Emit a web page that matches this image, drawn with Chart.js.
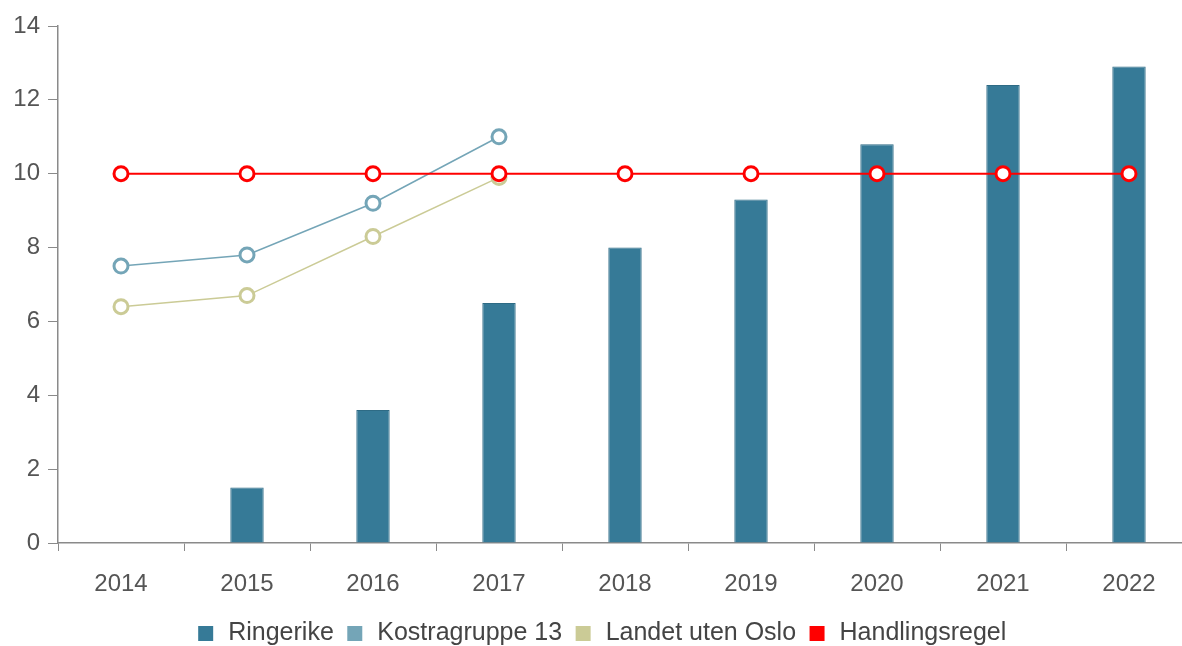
<!DOCTYPE html>
<html>
<head>
<meta charset="utf-8">
<script src="https://cdn.jsdelivr.net/npm/chart.js@4"></script>
<style>
    html, body { margin: 0; padding: 0; background: #fff; overflow: hidden; }
    #wrap { position: relative; width: 1182px; height: 646px; overflow: hidden; }
    #chart { position: absolute; left: 0; top: 0; width: 1202px; height: 646px; }
</style>
</head>
<body>
<div id="wrap"><canvas id="chart" width="1202" height="646"></canvas></div>
<script>
// Chart data
const years = ['2014', '2015', '2016', '2017', '2018', '2019', '2020', '2021', '2022'];
const ringerike = [null, 1.5, 3.6, 6.5, 8.0, 9.3, 10.8, 12.4, 12.9];
const kostragruppe13 = [7.5, 7.8, 9.2, 11.0, null, null, null, null, null];
const landetUtenOslo = [6.4, 6.7, 8.3, 9.9, null, null, null, null, null];
const handlingsregel = [10, 10, 10, 10, 10, 10, 10, 10, 10];
const yTicks = [0, 2, 4, 6, 8, 10, 12, 14];

const textColor = '#555555';
const axisColor = '#8a8a8a';
const fontFamily = '"Liberation Sans", Arial, sans-serif';

document.addEventListener('DOMContentLoaded', function() {
    initializeChart();
});

function lineDataset(label, data, color, width, order) {
    return {
        type: 'line',
        label: label,
        data: data,
        borderColor: color,
        backgroundColor: '#ffffff',
        borderWidth: width,
        pointRadius: 7,
        pointBorderWidth: 3,
        pointBackgroundColor: '#ffffff',
        pointBorderColor: color,
        legendColor: color,
        spanGaps: false,
        order: order
    };
}

function initializeChart() {
    const ctx = document.getElementById('chart');
    new Chart(ctx, {
        type: 'bar',
        data: {
            labels: years,
            datasets: [
                {
                    label: 'Ringerike',
                    data: ringerike,
                    backgroundColor: '#367a97',
                    borderColor: '#2e6b85',
                    borderWidth: 1,
                    legendColor: '#367a97',
                    categoryPercentage: 1,
                    barPercentage: 0.265,
                    order: 3
                },
                lineDataset('Kostragruppe 13', kostragruppe13, '#74a5b7', 1.5, 2),
                lineDataset('Landet uten Oslo', landetUtenOslo, '#cbcb96', 1.5, 1),
                lineDataset('Handlingsregel', handlingsregel, '#ff0000', 2, 0)
            ]
        },
        options: {
            // canvas is a bit wider than the page, the plot gets cut at the right like the source
            responsive: false,
            animation: false,
            layout: { padding: { top: 26, left: 0, right: 0, bottom: -10 } },
            plugins: {
                tooltip: { enabled: false },
                legend: {
                    position: 'bottom',
                    labels: {
                        color: '#444444',
                        font: { family: fontFamily, size: 25 },
                        usePointStyle: true,
                        pointStyle: 'rect',
                        boxWidth: 20,
                        boxHeight: 15,
                        padding: 11,
                        generateLabels: function(chart) {
                            return chart.data.datasets.map((ds, i) => ({
                                text: ds.label,
                                fillStyle: ds.legendColor,
                                strokeStyle: ds.legendColor,
                                lineWidth: 0,
                                pointStyle: 'rect',
                                fontColor: '#444444',
                                hidden: false,
                                datasetIndex: i
                            }));
                        }
                    }
                }
            },
            scales: {
                x: {
                    offset: true,
                    grid: {
                        offset: true,
                        drawOnChartArea: false,
                        drawTicks: true,
                        tickLength: 8,
                        color: axisColor
                    },
                    border: { color: axisColor, width: 1.5 },
                    ticks: {
                        color: textColor,
                        font: { family: fontFamily, size: 24 },
                        padding: 19,
                        maxRotation: 0
                    },
                    afterFit: function(scale) { scale.height = 67; }
                },
                y: {
                    min: 0,
                    max: 14,
                    afterBuildTicks: function(scale) {
                        scale.ticks = yTicks.map(v => ({ value: v }));
                    },
                    grid: {
                        drawOnChartArea: false,
                        drawTicks: true,
                        tickLength: 10,
                        color: axisColor
                    },
                    border: { color: axisColor, width: 1.5 },
                    ticks: {
                        color: textColor,
                        font: { family: fontFamily, size: 24 },
                        padding: 8
                    },
                    afterFit: function(scale) { scale.width = 58; }
                }
            }
        }
    });
}
</script>
</body>
</html>
